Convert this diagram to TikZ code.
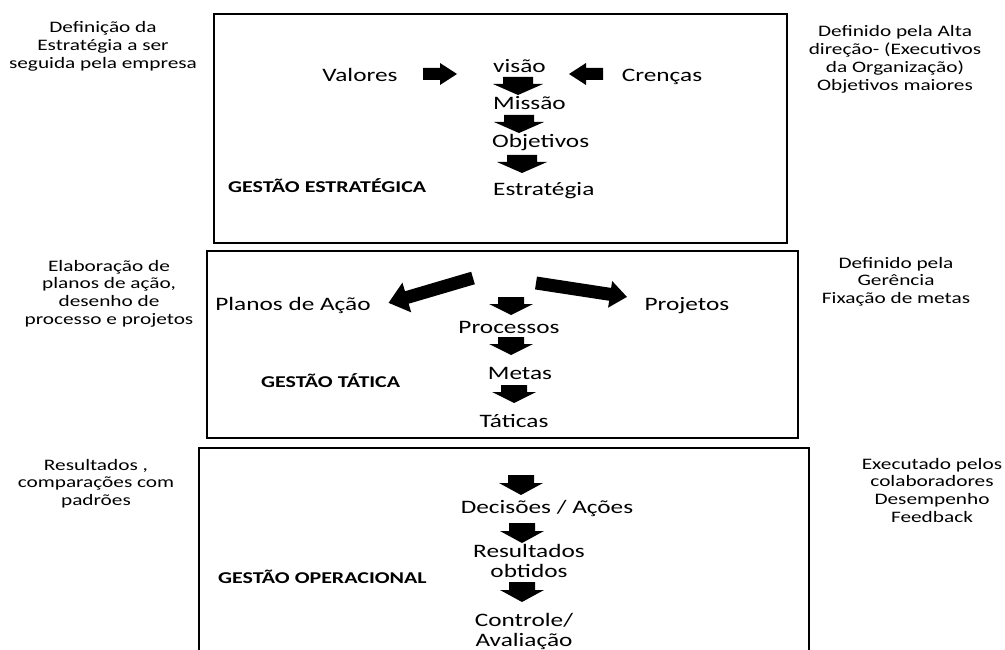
\documentclass[tikz,border=0pt]{standalone}
\usepackage{fontspec}
\setmainfont{Carlito}[FakeStretch=1.33]
\tikzset{
  pics/barrow/.style n args={4}{code={
      \fill (0,-#2/2) -- (#1-#4,-#2/2) -- (#1-#4,-#3/2) -- (#1,0)
        -- (#1-#4,#3/2) -- (#1-#4,#2/2) -- (0,#2/2) -- cycle;
    }}
}
\begin{document}
\begin{tikzpicture}[x=1pt, y=-1pt,
                    box/.style={draw, line width=2.8pt},
                    lbl/.style={font=\fontsize{19}{20}\selectfont, inner sep=0, align=center},
                    level/.style={font=\bfseries\fontsize{16.5}{18}\selectfont, inner sep=0, anchor=base west},
                    note/.style={font=\fontsize{16}{17.8}\selectfont, inner sep=0, align=center, anchor=base}]
                \useasboundingbox (0,0) rectangle (1005,650);
                \clip (0,0) rectangle (1005,650);

                \draw [box] (214,14) rectangle (787,243);
                \draw [box] (207,251) rectangle (798,438);
                \draw [box] (199,680) |- (809,448) -- (809,680);

                \node (n1) [note] at (103,68.6) {Definição da\\Estratégia a ser\\seguida pela empresa};
                \node (n2) [note] at (109,324.4) {Elaboração de\\planos de ação,\\desenho de\\processo e projetos};
                \node (n3) [note] at (96,505.6) {Resultados ,\\comparações com\\padrões};
                \node (n4) [note] at (895,90.4) {Definido pela Alta\\direção- (Executivos\\da Organização)\\Objetivos maiores};
                \node (n5) [note] at (896,303.6) {Definido pela\\Gerência\\Fixação de metas};
                \node (n6) [note] at (932,522.4) {Executado pelos\\colaboradores\\Desempenho\\Feedback};

                \node (valores) [lbl, anchor=base] at (360,82) {Valores};
                \node (visao) [lbl, anchor=base west] at (493,73) {visão};
                \node (crencas) [lbl, anchor=base] at (662,82) {Crenças};
                \node (missao) [lbl, anchor=base west] at (493,110) {Missão};
                \node (objetivos) [lbl, anchor=base west] at (492,148) {Objetivos};
                \node (estrategia) [lbl, anchor=base west] at (493,196) {Estratégia};
                \node (g1) [level] at (228,193) {GESTÃO ESTRATÉGICA};

                \pic (v1) at (423,74) {barrow={34}{12}{22}{17}};
                \pic [rotate=180] (c1) at (603,74) {barrow={34}{12}{22}{17}};
                \pic [rotate=-90] (e1) at (518,77) {barrow={18}{30}{50}{11}};
                \pic [rotate=-90] (e2) at (519,115) {barrow={18}{30}{50}{11}};
                \pic [rotate=-90] (e3) at (522,155) {barrow={18}{30}{50}{11}};

                \node (planos) [lbl, anchor=base] at (293,310) {Planos de Ação};
                \node (projetos) [lbl, anchor=base] at (687,310) {Projetos};
                \node (processos) [lbl, anchor=base] at (509,333) {Processos};
                \node (metas) [lbl, anchor=base] at (520,379) {Metas};
                \node (taticas) [lbl, anchor=base] at (514,427) {Táticas};
                \node (g2) [level] at (261,387) {GESTÃO TÁTICA};

                \pic [rotate=196.4] (t1) at (473,278) {barrow={88}{13}{31}{19}};
                \pic [rotate=-8.7] (t2) at (536,283) {barrow={92}{13}{27}{17}};
                \pic [rotate=-90] (t3) at (511,297) {barrow={18}{26}{44}{11}};
                \pic [rotate=-90] (t4) at (511,337) {barrow={18}{26}{44}{11}};
                \pic [rotate=-90] (t5) at (514,385) {barrow={18}{26}{44}{11}};

                \node (decisoes) [lbl, anchor=base] at (547,513) {Decisões / Ações};
                \node (resultados) [lbl, anchor=base] at (529,577) {Resultados\\obtidos};
                \node (controle) [lbl, anchor=base] at (524,646) {Controle/\\Avaliação};
                \node (g3) [level] at (218,583) {GESTÃO OPERACIONAL};

                \pic [rotate=-90] (o1) at (521,475) {barrow={20}{26}{44}{12}};
                \pic [rotate=-90] (o2) at (522,523) {barrow={20}{26}{44}{12}};
                \pic [rotate=-90] (o3) at (522,582) {barrow={20}{26}{44}{12}};
            \end{tikzpicture}
\end{document}
